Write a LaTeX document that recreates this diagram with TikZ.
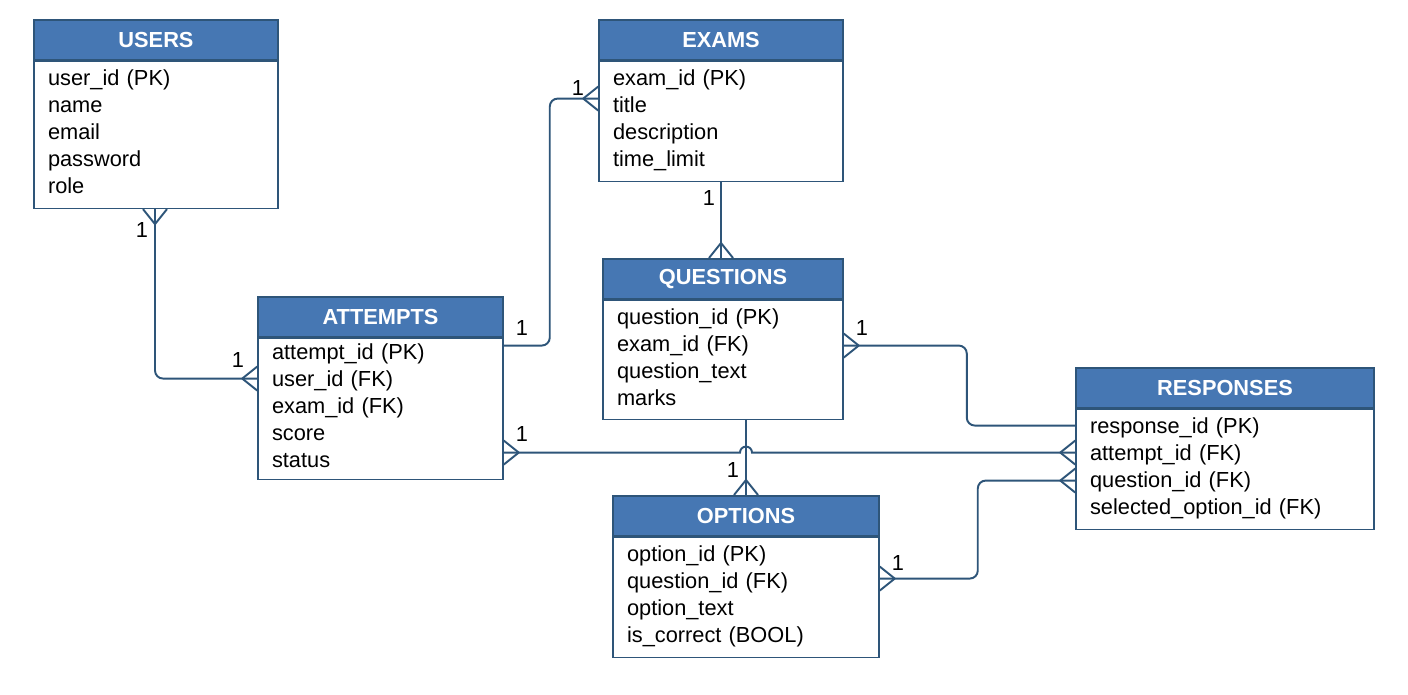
\documentclass[tikz,border=0pt]{standalone}
\usepackage{fontspec}
\setmainfont{Liberation Sans}
\usetikzlibrary{positioning,calc}
\definecolor{erblue}{HTML}{4677B3}
\definecolor{erline}{HTML}{2E5579}
\newcommand{\erfont}{\fontsize{12.4}{15.4}\selectfont}
% crow's foot: point, direction out of the box
\newcommand{\crow}[3]{%
	\draw[link] ($(#1)+({15*(#2)},{15*(#3)})$) -- ($(#1)+({12*(#3)},{12*(#2)})$)
		($(#1)+({15*(#2)},{15*(#3)})$) -- ($(#1)-({12*(#3)},{12*(#2)})$);}
\tikzset{
	ehead/.style={draw=erline, fill=erblue, text=white, font=\erfont\bfseries,
		line width=0.9pt, minimum height=0.8cm, inner sep=0pt, anchor=north},
	ebody/.style={draw=erline, fill=white, align=left, font=\erfont,
		line width=0.9pt, inner xsep=0.28cm, inner ysep=0pt,
		execute at end node={\rule[-0.12cm]{0pt}{0pt}}},
	link/.style={draw=erline, line width=1.1pt, rounded corners=0.16cm},
	card/.style={font=\erfont, inner sep=0pt}
}
\begin{document}
\begin{tikzpicture}[x=0.02cm, y=0.02cm]
	\useasboundingbox[fill=white] (0,0) rectangle (1408,695);

	% entities
	\node[ehead, minimum width=4.88cm] (usersh) at (156,676) {USERS};
	\node[ebody, below=0pt of usersh, text width=4.32cm, minimum height=2.94cm] (usersb)
		{user\_id (PK)\\name\\email\\password\\role};

	\node[ehead, minimum width=4.88cm] (examsh) at (721,676) {EXAMS};
	\node[ebody, below=0pt of examsh, text width=4.32cm, minimum height=2.4cm] (examsb)
		{exam\_id (PK)\\title\\description\\time\_limit};

	\node[ehead, minimum width=4.8cm] (questh) at (723,437) {QUESTIONS};
	\node[ebody, below=0pt of questh, text width=4.24cm, minimum height=2.38cm] (questb)
		{question\_id (PK)\\exam\_id (FK)\\question\_text\\marks};

	\node[ehead, minimum width=4.9cm] (atth) at (380.5,399) {ATTEMPTS};
	\node[ebody, below=0pt of atth, text width=4.34cm, minimum height=2.82cm] (attb)
		{attempt\_id (PK)\\user\_id (FK)\\exam\_id (FK)\\score\\status};

	\node[ehead, minimum width=5.96cm] (resph) at (1225,328) {RESPONSES};
	\node[ebody, below=0pt of resph, text width=5.4cm, minimum height=2.4cm] (respb)
		{response\_id (PK)\\attempt\_id (FK)\\question\_id (FK)\\selected\_option\_id (FK)};

	\node[ehead, minimum width=5.32cm] (opth) at (746,200) {OPTIONS};
	\node[ebody, below=0pt of opth, text width=4.76cm, minimum height=2.4cm] (optb)
		{option\_id (PK)\\question\_id (FK)\\option\_text\\is\_correct (BOOL)};

	% end points
	\coordinate (u1) at ($(usersb.south)+(-1,0)$);
	\coordinate (a1) at ($(attb.north west)+(0,-41)$);
	\coordinate (a2) at ($(attb.north east)+(0,-8)$);
	\coordinate (e2) at ($(examsb.north west)+(0,-38)$);
	\coordinate (e3) at (examsb.south);
	\coordinate (q3) at (questh.north -| examsb.south);
	\coordinate (q4) at ($(questb.north east)+(0,-46)$);
	\coordinate (r4) at ($(respb.north west)+(0,-17)$);
	\coordinate (a5) at ($(attb.north east)+(0,-115)$);
	\coordinate (r5) at ($(respb.north west)+(0,-44)$);
	\coordinate (q6) at (questb.south -| opth.north);
	\coordinate (o6) at (opth.north);
	\coordinate (o7) at ($(optb.north east)+(0,-42)$);
	\coordinate (r7) at ($(respb.north west)+(0,-72)$);

	% relationships
	\draw[link] (u1) |- (a1);
	\draw[link] (a2) -- ++(46,0) |- (e2);
	\draw[link] (e3) -- (q3);
	\draw[link] (q4) -- ++(123,0) |- (r4);
	\draw[link] (q6) -- (o6);
	\draw[link, sharp corners] (a5) -- ($(a5 -| o6)+(-6,0)$)
		arc[start angle=180, end angle=0, radius=0.12cm] -- (r5);
	\draw[link] (o7) -- ++(98,0) |- (r7);

	\crow{u1}{0}{-1}
	\crow{a1}{-1}{0}
	\crow{e2}{-1}{0}
	\crow{q3}{0}{1}
	\crow{q4}{1}{0}
	\crow{a5}{1}{0}
	\crow{r5}{-1}{0}
	\crow{o6}{0}{1}
	\crow{o7}{1}{0}
	\crow{r7}{-1}{0}

	% cardinalities
	\node[card] (cu1) at (142,465) {1};
	\node[card] (ca1) at (238,335) {1};
	\node[card] (ca2) at (522,367) {1};
	\node[card] (ce2) at (578,607) {1};
	\node[card] (ce3) at (709,497) {1};
	\node[card] (cq4) at (862,367) {1};
	\node[card] (ca5) at (522,261) {1};
	\node[card] (cq6) at (733,225) {1};
	\node[card] (co7) at (898,132) {1};
\end{tikzpicture}
\end{document}
